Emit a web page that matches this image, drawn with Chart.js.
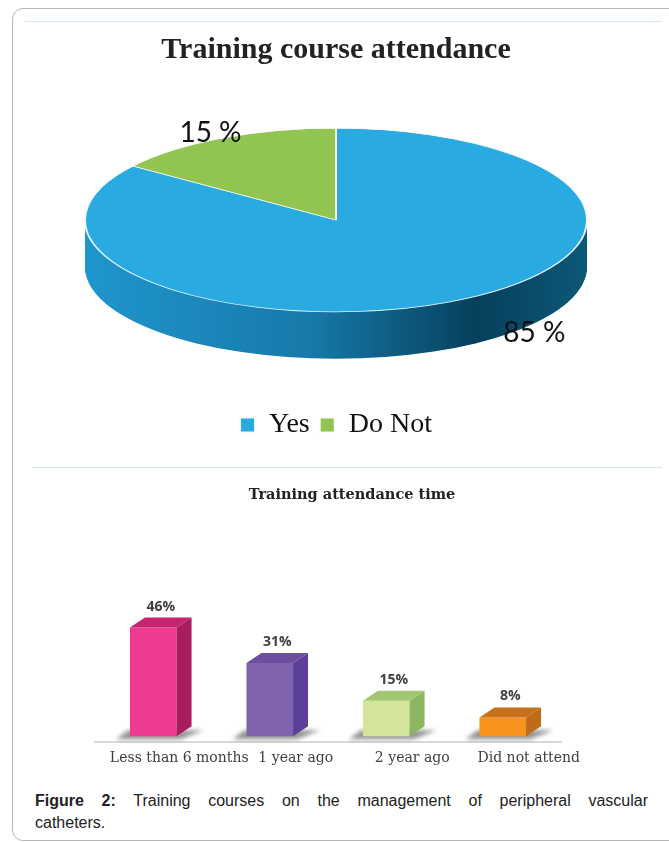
<!DOCTYPE html>
<html>
<head>
<meta charset="utf-8">
<script src="https://cdn.jsdelivr.net/npm/chart.js@4.4.0/dist/chart.umd.min.js"></script>
<style>
  body { margin: 0; background: #fff; width: 669px; height: 842px; overflow: hidden; position: relative;
         font-family: "Liberation Sans", Arial, sans-serif; }
  #frame { position: absolute; left: 12px; top: 8px; width: 690px; height: 833px;
           border: 1px solid #b8b8b8; border-radius: 11px; box-sizing: border-box; }
  .rule { position: absolute; height: 1px; background: #d4e4f2; }
  #pie { position: absolute; left: 0; top: 22px; }
  #bar { position: absolute; left: 0; top: 478px; }
  #caption { position: absolute; left: 35px; top: 790px; width: 613px; font-size: 16px; line-height: 22px; color: #222; }
  #caption .l1 { text-align: justify; text-align-last: justify; }
</style>
</head>
<body>
<div id="frame"></div>
<div class="rule" style="left:25px; top:21px; width:637px"></div>
<div class="rule" style="left:32px; top:467px; width:630px"></div>
<canvas id="pie" width="669" height="443"></canvas>
<canvas id="bar" width="669" height="300"></canvas>
<div id="caption">
  <div class="l1"><b>Figure 2:</b> Training courses on the management of peripheral vascular</div>
  <div>catheters.</div>
</div>

<script>
// ---- data ----
const pieLabels = ['Yes', 'Do Not'];
const pieValues = [85, 15];

const barLabels = ['Less than 6 months', '1 year ago', '2 year ago', 'Did not attend'];
const barValues = [46, 31, 15, 8];

// ---- styles ----
const pieTop = ['#29abe2', '#92c451'];
const pieSideGreen = '#6f9a3a';
const barFront = ['#ee3a8f', '#8065ae', '#d3e59b', '#f7941d'];
const barTop = ['#c6246e', '#6b4e9f', '#a3c771', '#c8711b'];
const barSide = ['#a91d5f', '#5c3f98', '#8db662', '#bf6c19'];

// pie: squash the flat pie into an ellipse and give it a side wall
const K = 0.366;      // vertical squash
const DEPTH = 47;     // wall height in px
const PIE_CY = 198;   // centre of the top face on the canvas

const pie3d = {
  id: 'pie3d',
  beforeDatasetsDraw(chart) {
    const ctx = chart.ctx;
    const arcs = chart.getDatasetMeta(0).data;
    const { x, y, outerRadius } = arcs[0].getProps(['x', 'y', 'outerRadius'], true);

    const grad = ctx.createLinearGradient(x - outerRadius, 0, x + outerRadius, 0);
    grad.addColorStop(0, '#1f96cd');
    grad.addColorStop(0.45, '#1779a9');
    grad.addColorStop(0.78, '#06405c');
    grad.addColorStop(1, '#0c5878');

    for (let d = DEPTH; d > 0; d--) {
      ctx.save();
      ctx.translate(x, PIE_CY + d);
      ctx.scale(1, K);
      ctx.translate(-x, -y);
      arcs.forEach((a, i) => {
        const p = a.getProps(['startAngle', 'endAngle'], true);
        ctx.beginPath();
        ctx.moveTo(x, y);
        ctx.arc(x, y, outerRadius, p.startAngle, p.endAngle);
        ctx.closePath();
        ctx.fillStyle = i === 0 ? grad : pieSideGreen;
        ctx.fill();
      });
      ctx.restore();
    }

    ctx.save();
    ctx.translate(x, PIE_CY);
    ctx.scale(1, K);
    ctx.translate(-x, -y);
  },
  afterDatasetsDraw(chart) {
    const ctx = chart.ctx;
    ctx.restore();

    const arcs = chart.getDatasetMeta(0).data;
    const { x, outerRadius } = arcs[0].getProps(['x', 'outerRadius'], true);
    const place = [[0.79, 1.23], [-0.5, -0.95]];
    ctx.save();
    ctx.font = '28px Lato, "Open Sans", sans-serif';
    ctx.fillStyle = '#111';
    ctx.textAlign = 'center';
    ctx.textBaseline = 'middle';
    pieValues.forEach((v, i) => {
      ctx.fillText(v + ' %', x + place[i][0] * outerRadius, PIE_CY + place[i][1] * outerRadius * K);
    });
    ctx.restore();
  }
};

new Chart(document.getElementById('pie'), {
  type: 'pie',
  data: {
    labels: pieLabels,
    datasets: [{
      data: pieValues,
      backgroundColor: pieTop,
      borderColor: 'rgba(255,255,255,0.9)',
      borderWidth: 2,
      radius: 251,
      clip: false
    }]
  },
  options: {
    responsive: false,
    animation: false,
    layout: { padding: { left: 3, right: 0, top: 0, bottom: 16 } },
    plugins: {
      title: {
        display: true,
        text: 'Training course attendance',
        color: '#222',
        font: { family: '"Liberation Serif", "Times New Roman", serif', size: 30, weight: 'bold' },
        padding: { top: 10, bottom: 10 }
      },
      legend: {
        position: 'bottom',
        labels: {
          color: '#111',
          boxWidth: 15,
          boxHeight: 15,
          padding: 10,
          font: { family: '"Liberation Serif", "Times New Roman", serif', size: 28 }
        }
      },
      tooltip: { enabled: false }
    }
  },
  plugins: [pie3d]
});

// bars: front face from Chart.js, top and side faces added on top
const DX = 15, DY = 10;

const bar3d = {
  id: 'bar3d',
  afterLayout(chart) {
    // the source title sits a little right of the plot centre
    chart.titleBlock.left += 24;
    chart.titleBlock.right += 24;
  },
  beforeDatasetsDraw(chart) {
    const ctx = chart.ctx;
    ctx.save();
    ctx.filter = 'blur(2px)';
    ctx.fillStyle = 'rgba(60,60,60,0.55)';
    chart.getDatasetMeta(0).data.forEach(bar => {
      const { x, base, width } = bar.getProps(['x', 'base', 'width'], true);
      const l = x - width / 2, r = x + width / 2;
      ctx.beginPath();
      ctx.moveTo(l - 14, base + 3);
      ctx.lineTo(r + 4, base + 3);
      ctx.lineTo(r + DX + 12, base - 6);
      ctx.lineTo(l - 2, base - 6);
      ctx.closePath();
      ctx.fill();
    });
    ctx.restore();
  },
  afterDatasetsDraw(chart) {
    const ctx = chart.ctx;
    ctx.save();
    chart.getDatasetMeta(0).data.forEach((bar, i) => {
      const { x, y, base, width } = bar.getProps(['x', 'y', 'base', 'width'], true);
      const l = x - width / 2, r = x + width / 2;

      ctx.fillStyle = barTop[i];
      ctx.beginPath();
      ctx.moveTo(l, y);
      ctx.lineTo(l + DX, y - DY);
      ctx.lineTo(r + DX, y - DY);
      ctx.lineTo(r, y);
      ctx.closePath();
      ctx.fill();

      ctx.fillStyle = barSide[i];
      ctx.beginPath();
      ctx.moveTo(r, y);
      ctx.lineTo(r + DX, y - DY);
      ctx.lineTo(r + DX, base - DY);
      ctx.lineTo(r, base);
      ctx.closePath();
      ctx.fill();

      ctx.fillStyle = '#404040';
      ctx.font = 'bold 14px "Open Sans", sans-serif';
      ctx.textAlign = 'center';
      ctx.textBaseline = 'middle';
      ctx.fillText(barValues[i] + '%', x + DX / 2, y - DY - 11);
    });
    ctx.restore();
  }
};

new Chart(document.getElementById('bar'), {
  type: 'bar',
  data: {
    labels: barLabels,
    datasets: [{
      data: barValues,
      backgroundColor: barFront,
      barPercentage: 0.4,
      categoryPercentage: 1
    }]
  },
  options: {
    responsive: false,
    animation: false,
    layout: { padding: { left: 95, right: 108, top: 0, bottom: 3 } },
    scales: {
      x: {
        grid: { display: false, drawTicks: false },
        border: { color: '#d9d9d9', width: 2 },
        ticks: {
          color: '#404040',
          padding: 8,
          labelOffset: 26,
          autoSkip: false,
          maxRotation: 0,
          minRotation: 0,
          font: { family: '"DejaVu Serif", serif', size: 14 }
        }
      },
      y: { display: false, min: -2.5, max: 96 }
    },
    plugins: {
      legend: { display: false },
      tooltip: { enabled: false },
      title: {
        display: true,
        text: 'Training attendance time',
        color: '#222',
        font: { family: '"DejaVu Serif", serif', size: 14.5, weight: 'bold' },
        padding: { top: 9, bottom: 5 }
      }
    }
  },
  plugins: [bar3d]
});
</script>
</body>
</html>
